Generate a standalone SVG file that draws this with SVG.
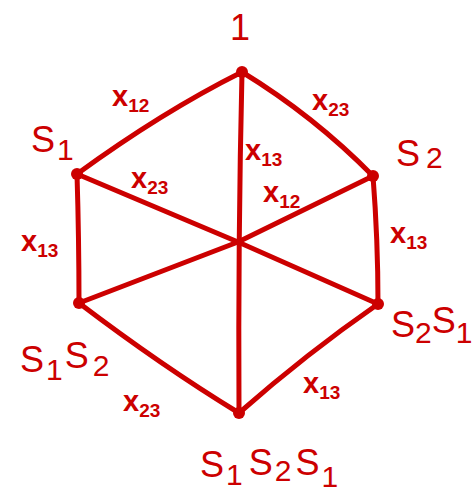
<svg xmlns="http://www.w3.org/2000/svg" width="474" height="492" viewBox="0 0 474 492">
<style>
.e{fill:none;stroke:#cc0000;stroke-width:5;stroke-linecap:round;stroke-linejoin:round}
.d{fill:#cc0000}
.t{fill:#cc0000;font-family:"Liberation Sans",Arial,sans-serif;font-size:36px}
.l{fill:#cc0000;font-family:"Liberation Sans",Arial,sans-serif;font-size:29px;font-weight:bold}
.s{font-size:19px}
.n{font-size:30px}
</style>
<rect width="474" height="492" fill="#ffffff"/>
<g id="connectors">
<path class="e" d="M242,72 Q162,112 77,174"/>
<path class="e" d="M242,72 Q314,116 373,176"/>
<path class="e" d="M77,174 Q79,240 79,303"/>
<path class="e" d="M373,176 Q378,240 378,304"/>
<path class="e" d="M79,303 Q162,366 239,413"/>
<path class="e" d="M378,304 Q306,354 239,413"/>
<path class="e" d="M242,72 Q238,240 239,413"/>
<path class="e" d="M77,174 L238,242 L378,304"/>
<path class="e" d="M373,176 L238,242 L79,303"/>
</g>
<g id="labels-edges">
<text class="l" x="112" y="106">x<tspan class="s" dy="6">12</tspan></text>
<text class="l" x="312" y="110">x<tspan class="s" dy="6">23</tspan></text>
<text class="l" x="245" y="160">x<tspan class="s" dy="6">13</tspan></text>
<text class="l" x="131" y="188">x<tspan class="s" dy="6">23</tspan></text>
<text class="l" x="263" y="202">x<tspan class="s" dy="6">12</tspan></text>
<text class="l" x="21" y="251">x<tspan class="s" dy="6">13</tspan></text>
<text class="l" x="390" y="243">x<tspan class="s" dy="6">13</tspan></text>
<text class="l" x="123" y="411">x<tspan class="s" dy="6">23</tspan></text>
<text class="l" x="303" y="393">x<tspan class="s" dy="6">13</tspan></text>
</g>
<g id="node-1">
<circle class="d" cx="242" cy="72" r="6"/>
<text class="t" x="240" y="40" text-anchor="middle">1</text>
</g>
<g id="node-s1">
<circle class="d" cx="77" cy="174" r="6"/>
<text class="t" x="31" y="152">S<tspan class="n" dx="2" dy="8">1</tspan></text>
</g>
<g id="node-s2">
<circle class="d" cx="373" cy="176" r="6"/>
<text class="t" x="396" y="166">S<tspan class="n" dx="6" dy="2">2</tspan></text>
</g>
<g id="node-s1s2">
<circle class="d" cx="79" cy="303" r="6"/>
<text class="t" x="20" y="372">S<tspan class="n" dx="2" dy="8">1</tspan><tspan dx="2" dy="-12">S</tspan><tspan class="n" dx="4" dy="8">2</tspan></text>
</g>
<g id="node-s2s1">
<circle class="d" cx="378" cy="304" r="6"/>
<text class="t" x="391" y="337" font-size="33">S<tspan class="n" font-size="27" dy="6">2</tspan><tspan dy="-10">S</tspan><tspan class="n" font-size="27" dy="10">1</tspan></text>
</g>
<g id="node-s1s2s1">
<circle class="d" cx="239" cy="413" r="6"/>
<text class="t" x="200" y="477">S<tspan class="n" dx="2" dy="8">1</tspan><tspan dx="6" dy="-10">S</tspan><tspan class="n" dx="2" dy="6">2</tspan><tspan dx="4" dy="-6">S</tspan><tspan class="n" dx="2" dy="12">1</tspan></text>
</g>
</svg>
